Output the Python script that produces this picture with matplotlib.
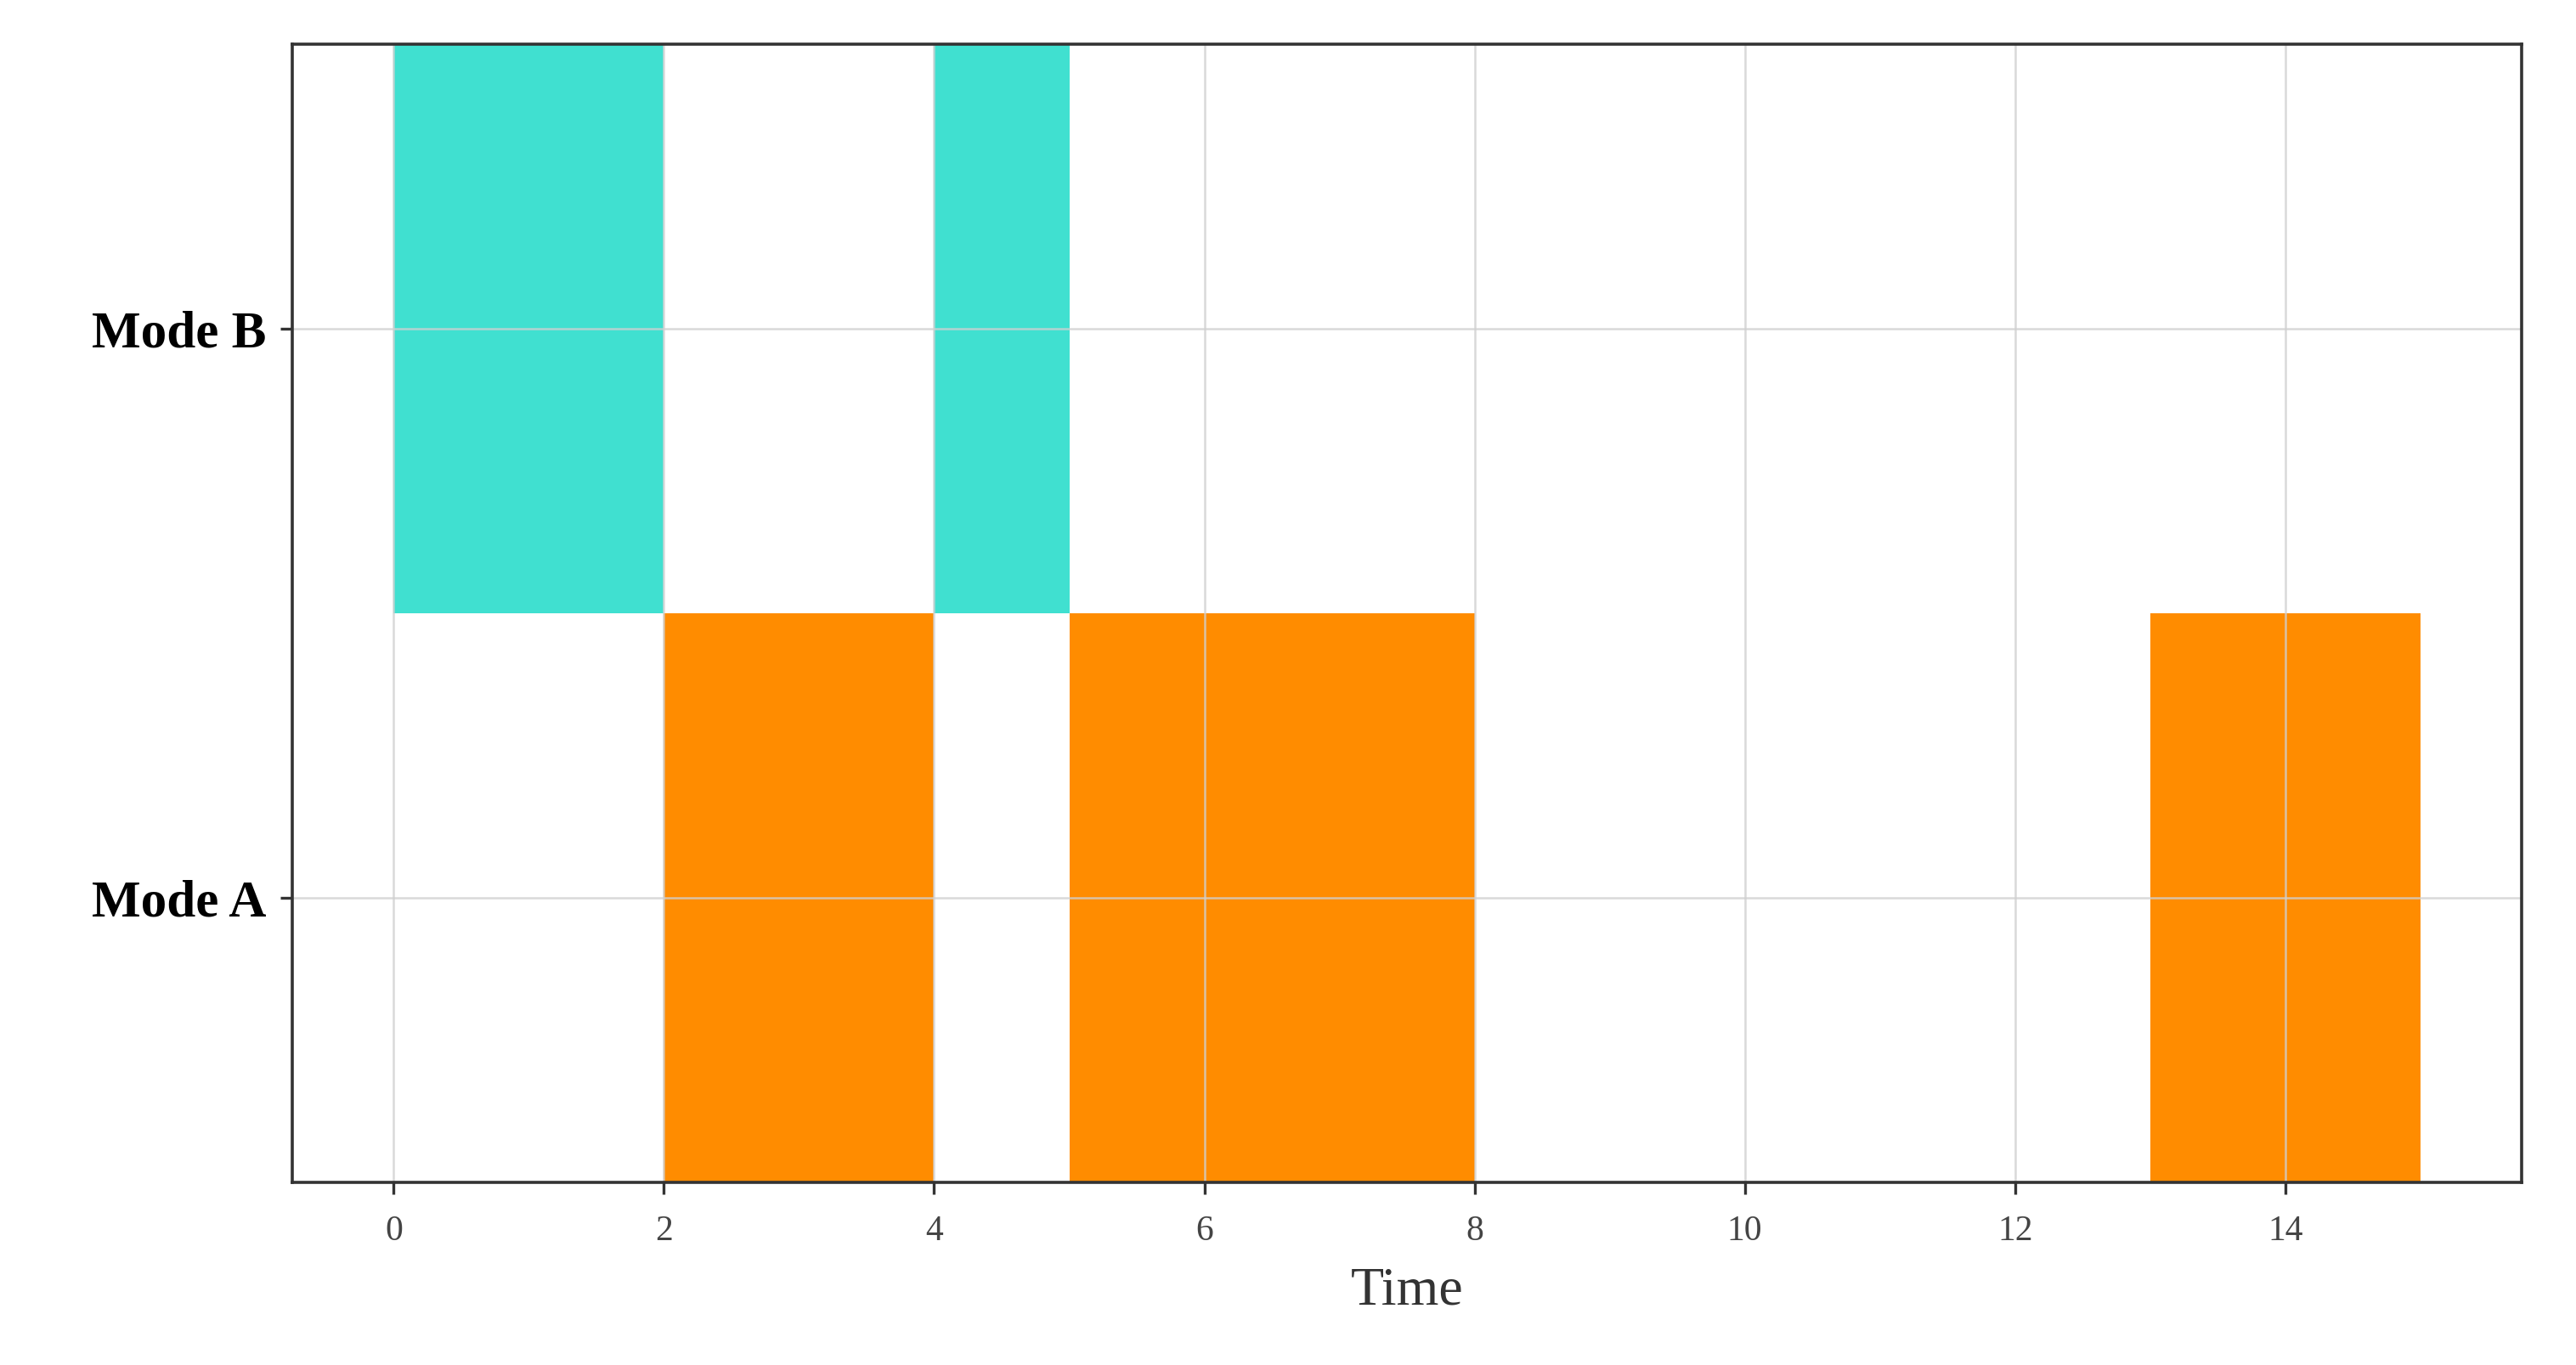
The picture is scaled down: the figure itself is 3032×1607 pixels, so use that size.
import matplotlib
matplotlib.use("Agg")
import matplotlib.pyplot as plt

# Time intervals per mode: (start, duration)
modes = ["Mode A", "Mode B"]
mode_a_spans = [(2, 2), (5, 3), (13, 2)]
mode_b_spans = [(0, 2), (4, 1)]
mode_colors = ["#FF8C00", "#40E0D0"]
x_ticks = [0, 2, 4, 6, 8, 10, 12, 14]

plt.rcParams["font.family"] = ["Liberation Serif", "DejaVu Serif"]

fig = plt.figure(figsize=(15.16, 8.035), dpi=200)
ax = fig.add_axes([0.1135, 0.1338, 0.8654, 0.8338])

for row, spans in enumerate([mode_a_spans, mode_b_spans]):
    ax.broken_barh(spans, (row - 0.5, 1.0), facecolors=mode_colors[row],
                   edgecolor="none", zorder=1)

ax.set_xlim(-0.75, 15.75)
ax.set_ylim(-0.5, 1.5)
ax.set_xticks(x_ticks)
ax.set_yticks(range(len(modes)))
ax.set_yticklabels(modes, fontsize=22, fontweight="bold", color="black")
ax.tick_params(axis="x", labelsize=15, labelcolor="#444444", length=5,
               width=1.2, color="#333333", pad=9)
ax.tick_params(axis="y", length=5, width=1.2, color="#333333", pad=6)

ax.grid(True, color="#d0d0d0", linewidth=0.9, alpha=0.8, zorder=2)
ax.set_axisbelow(False)

for sp in ax.spines.values():
    sp.set_color("#333333")
    sp.set_linewidth(1.3)
    sp.set_zorder(3)

ax.set_xlabel("Time", fontsize=23, color="#333333", labelpad=8)

fig.savefig("out.png", dpi=200)
